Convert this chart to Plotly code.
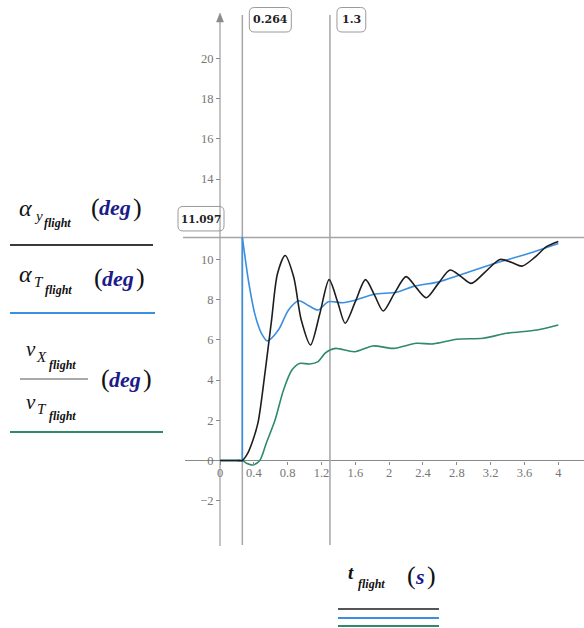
import plotly.graph_objects as go

# ---------------- data ----------------
t_alpha_y = [0, 0.2, 0.264, 0.32, 0.38, 0.45, 0.53, 0.61, 0.68, 0.77, 0.87, 0.96, 1.07, 1.18,
             1.29, 1.39, 1.48, 1.60, 1.72, 1.83, 1.93, 2.06, 2.20, 2.32, 2.44, 2.58, 2.72,
             2.85, 2.97, 3.14, 3.31, 3.45, 3.57, 3.72, 3.86, 4.0]
alpha_y = [0, 0, 0, 0.3, 0.9, 1.9, 4.3, 7.0, 9.3, 10.2, 9.15, 7.0, 5.75, 7.3,
           9.0, 7.9, 6.83, 7.9, 9.0, 8.2, 7.44, 8.3, 9.15, 8.6, 8.1, 8.8, 9.48,
           9.15, 8.81, 9.4, 10.0, 9.85, 9.67, 10.1, 10.64, 10.9]

t_alpha_T = [0, 0.2, 0.264, 0.264, 0.30, 0.335, 0.41, 0.49, 0.56, 0.69, 0.81, 0.93, 1.05,
             1.16, 1.28, 1.45, 1.60, 1.82, 2.09, 2.28, 2.6, 2.8, 3.19, 3.59, 4.0]
alpha_T = [0, 0, 0, 11.097, 10.0, 8.98, 7.32, 6.33, 5.95, 6.49, 7.49, 7.95, 7.7,
           7.49, 7.9, 7.85, 7.98, 8.27, 8.37, 8.65, 8.9, 9.18, 9.73, 10.22, 10.8]

t_ratio = [0, 0.2, 0.264, 0.32, 0.39, 0.47, 0.55, 0.65, 0.75, 0.85, 0.94, 1.06, 1.16, 1.24,
           1.30, 1.37, 1.59, 1.81, 2.05, 2.32, 2.52, 2.8, 3.11, 3.39, 3.75, 4.0]
ratio = [0, 0, 0, -0.15, -0.22, 0.0, 0.9, 2.0, 3.5, 4.5, 4.83, 4.8, 4.92, 5.33,
         5.5, 5.58, 5.41, 5.7, 5.58, 5.83, 5.8, 6.03, 6.08, 6.33, 6.49, 6.74]

x_markers = [0.264, 1.3]
y_markers = [11.097]

x_ticks = [0, 0.4, 0.8, 1.2, 1.6, 2, 2.4, 2.8, 3.2, 3.6, 4]
x_tick_labels = ["0", "0.4", "0.8", "1.2", "1.6", "2", "2.4", "2.8", "3.2", "3.6", "4"]
y_ticks = [-2, 0, 2, 4, 6, 8, 10, 12, 14, 16, 18, 20]
# the "12" label is hidden behind the 11.097 marker box in the reference
y_tick_labels = ["\u22122", "0", "2", "4", "6", "8", "10", "", "14", "16", "18", "20"]

# ---------------- layout geometry ----------------
W, H = 584, 628
X0PX, PXU = 220.0, 84.58      # pixel of t=0, pixels per unit
Y0PX, PYU = 460.5, 20.1       # pixel of y=0, pixels per unit
x_range = [-X0PX / PXU, (W - X0PX) / PXU]
y_range = [-(H - Y0PX) / PYU, Y0PX / PYU]

def px(x):
    return x / W

def py(y):
    return 1 - y / H

def dx(t):
    return X0PX + t * PXU

def dy(v):
    return Y0PX - v * PYU

BLACK = "#1e1e1e"
BLUE = "#3a8fe0"
GREEN = "#2f8a68"
AXIS = "#8a8a8a"
MARK = "#a5a5a5"
NAVY = "#1b1b8a"
SERIF = "Liberation Serif"

fig = go.Figure()
fig.add_trace(go.Scatter(x=t_ratio, y=ratio, mode="lines",
                         line=dict(color=GREEN, width=1.6, shape="spline", smoothing=0.8)))
# alpha_T: flat part + jump drawn straight, remainder smoothed
jump = 3
fig.add_trace(go.Scatter(x=t_alpha_T[:jump + 1], y=alpha_T[:jump + 1], mode="lines",
                         line=dict(color=BLUE, width=1.6)))
fig.add_trace(go.Scatter(x=t_alpha_T[jump:], y=alpha_T[jump:], mode="lines",
                         line=dict(color=BLUE, width=1.6, shape="spline", smoothing=0.8)))
fig.add_trace(go.Scatter(x=t_alpha_y, y=alpha_y, mode="lines",
                         line=dict(color=BLACK, width=1.6, shape="spline", smoothing=0.8)))

shapes = []
annotations = []

# axes lines
shapes.append(dict(type="line", xref="paper", yref="paper", x0=px(185), x1=px(584),
                   y0=py(Y0PX), y1=py(Y0PX), line=dict(color=AXIS, width=1), layer="below"))
shapes.append(dict(type="line", xref="paper", yref="paper", x0=px(X0PX), x1=px(X0PX),
                   y0=py(20), y1=py(546), line=dict(color=AXIS, width=1), layer="below"))
# arrow head
shapes.append(dict(type="path", xref="paper", yref="paper",
                   path=f"M {px(X0PX)} {py(13)} L {px(X0PX-3.5)} {py(22)} L {px(X0PX+3.5)} {py(22)} Z",
                   fillcolor=AXIS, line=dict(color=AXIS, width=0.5)))

def rrect(x0, y0, x1, y1, r):
    return (f"M {px(x0+r)} {py(y0)} L {px(x1-r)} {py(y0)} Q {px(x1)} {py(y0)} {px(x1)} {py(y0+r)} "
            f"L {px(x1)} {py(y1-r)} Q {px(x1)} {py(y1)} {px(x1-r)} {py(y1)} "
            f"L {px(x0+r)} {py(y1)} Q {px(x0)} {py(y1)} {px(x0)} {py(y1-r)} "
            f"L {px(x0)} {py(y0+r)} Q {px(x0)} {py(y0)} {px(x0+r)} {py(y0)} Z")

# vertical markers
for xm in x_markers:
    shapes.append(dict(type="line", xref="x", yref="paper", x0=xm, x1=xm,
                       y0=py(15), y1=py(545), line=dict(color=MARK, width=1.5), layer="below"))
    lab = f"{xm:g}"
    wbox = 9 + 6.6 * len(lab)
    bx0 = dx(xm) + 7
    shapes.append(dict(type="path", xref="paper", yref="paper",
                       path=rrect(bx0, 7.5, bx0 + wbox, 32, 5),
                       line=dict(color="#9a9a9a", width=1), fillcolor="white"))
    annotations.append(dict(xref="paper", yref="paper", x=px(bx0 + wbox / 2), y=py(20),
                            text=f"<b>{lab}</b>", showarrow=False, xanchor="center", yanchor="middle",
                            font=dict(family="DejaVu Serif", size=11, color="#222")))

# horizontal marker
for ym in y_markers:
    shapes.append(dict(type="line", xref="paper", yref="y", x0=px(183), x1=1,
                       y0=ym, y1=ym, line=dict(color=MARK, width=1.5), layer="below"))
    lab = f"{ym:.3f}"
    shapes.append(dict(type="path", xref="paper", yref="paper",
                       path=rrect(178, dy(ym) - 31, 224, dy(ym) - 6.5, 5),
                       line=dict(color="#9a9a9a", width=1), fillcolor="white"))
    shapes.append(dict(type="line", xref="paper", yref="paper", x0=px(X0PX), x1=px(X0PX),
                       y0=py(dy(ym) - 31), y1=py(dy(ym) - 6.5), line=dict(color=AXIS, width=1)))
    annotations.append(dict(xref="paper", yref="paper", x=px(201), y=py(dy(ym) - 18.5),
                            text=f"<b>{lab}</b>", showarrow=False, xanchor="center", yanchor="middle",
                            font=dict(family="DejaVu Serif", size=10.5, color="#222")))

def txt(s, x, y, size, color="#111", xanchor="left", family=SERIF):
    annotations.append(dict(xref="paper", yref="paper", x=px(x), y=py(y), text=s,
                            showarrow=False, xanchor=xanchor, yanchor="middle",
                            font=dict(family=family, size=size, color=color)))

def deg(x, y, size=22, unit="deg"):
    txt("(", x, y, size + 4, "#111")
    txt(f"<b><i>{unit}</i></b>", x + 8, y + 1, size, NAVY)
    txt(")", x + 8 + 0.5 * size * len(unit) + 1, y, size + 4, "#111")

# legend row 1: alpha_y
txt("<i>α</i>", 17, 208, 24)
txt("<i>y</i>", 32, 216, 15)
txt("<b><i>flight</i></b>", 42, 223, 12)
deg(89, 207)
shapes.append(dict(type="line", xref="paper", yref="paper", x0=px(10), x1=px(153),
                   y0=py(245), y1=py(245), line=dict(color="#3a3a3a", width=2)))
# row 2: alpha_T
txt("<i>α</i>", 17, 274, 24)
txt("<i>T</i>", 32, 282, 15)
txt("<b><i>flight</i></b>", 43, 290, 12)
deg(92, 277)
shapes.append(dict(type="line", xref="paper", yref="paper", x0=px(10), x1=px(155),
                   y0=py(313), y1=py(313), line=dict(color=BLUE, width=2)))
# row 3: vX / vT
txt("<i>v</i>", 24, 349, 21)
txt("<i>X</i>", 34, 357, 15)
txt("<b><i>flight</i></b>", 47, 365, 12)
shapes.append(dict(type="line", xref="paper", yref="paper", x0=px(20), x1=px(88),
                   y0=py(379), y1=py(379), line=dict(color="#555", width=1.2)))
txt("<i>v</i>", 24, 402, 21)
txt("<i>T</i>", 35, 409, 15)
txt("<b><i>flight</i></b>", 47, 416, 12)
deg(99, 378)
shapes.append(dict(type="line", xref="paper", yref="paper", x0=px(10), x1=px(163),
                   y0=py(432), y1=py(432), line=dict(color=GREEN, width=2)))

# x label
txt("<b><i>t</i></b>", 346, 572, 19)
txt("<b><i>flight</i></b>", 356, 584, 12)
deg(405, 575, size=22, unit="s")
for yy, cc in [(609, "#555"), (618, BLUE), (626, GREEN)]:
    shapes.append(dict(type="line", xref="paper", yref="paper", x0=px(338), x1=px(439),
                       y0=py(yy), y1=py(yy), line=dict(color=cc, width=2)))

tickfont = dict(family=SERIF, size=12.5, color="#767676")
fig.update_layout(
    width=W, height=H, margin=dict(l=0, r=0, t=0, b=0),
    paper_bgcolor="white", plot_bgcolor="white", showlegend=False,
    xaxis=dict(range=x_range, domain=[0, 1], anchor="free", position=py(Y0PX),
               showgrid=False, zeroline=False, showline=False,
               ticks="outside", ticklen=3, tickwidth=1, tickcolor=AXIS,
               ticklabelstandoff=-3,
               tickvals=x_ticks, ticktext=x_tick_labels, tickfont=tickfont),
    yaxis=dict(range=y_range, domain=[0, 1], anchor="free", position=px(X0PX),
               showgrid=False, zeroline=False, showline=False,
               ticks="outside", ticklen=4, tickwidth=1, tickcolor=AXIS,
               tickvals=y_ticks, ticktext=y_tick_labels, tickfont=tickfont),
    shapes=shapes, annotations=annotations,
)
fig.write_html("out.html")
